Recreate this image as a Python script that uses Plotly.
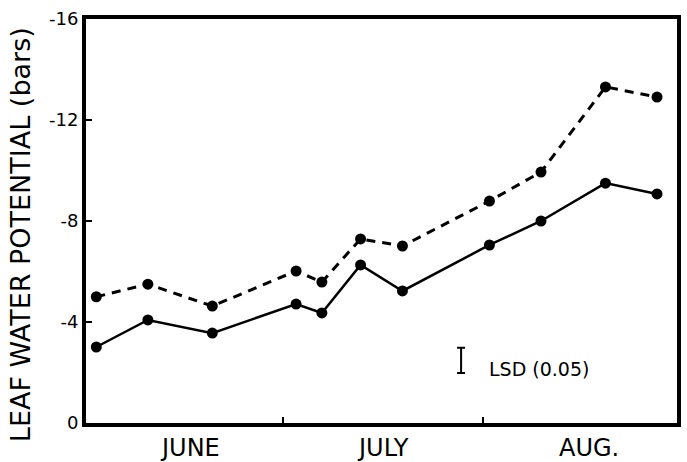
import plotly.graph_objects as go

# Days after June 1
days = [1, 9, 19, 32, 36, 42, 48.5, 62, 70, 80, 88]
# Leaf water potential (bars)
dashed_series = [-5.0, -5.5, -4.63, -6.02, -5.58, -7.29, -7.01, -8.79, -9.94, -13.31, -12.91]
solid_series = [-3.01, -4.08, -3.56, -4.71, -4.36, -6.26, -5.23, -7.05, -8.0, -9.5, -9.07]

y_ticks = [0, -4, -8, -12, -16]
y_tick_labels = ["0", "-4", "-8", "-12", "-16"]
month_boundaries = [30, 61]
month_centers = [15.5, 45.5, 77.5]
month_names = ["JUNE", "JULY", "AUG."]

lsd_value = 1.0
lsd_day = 57.6
lsd_level = -2.48

FONT = "DejaVu Sans"

fig = go.Figure()
fig.add_trace(go.Scatter(
    x=days, y=dashed_series, mode="lines+markers",
    line=dict(color="black", width=3, dash="9px,7px"),
    marker=dict(color="black", size=11),
    showlegend=False, hoverinfo="skip"))
fig.add_trace(go.Scatter(
    x=days, y=solid_series, mode="lines+markers",
    line=dict(color="black", width=2.5),
    marker=dict(color="black", size=11),
    showlegend=False, hoverinfo="skip"))
# LSD bar
fig.add_trace(go.Scatter(
    x=[lsd_day], y=[lsd_level], mode="markers",
    marker=dict(size=0.1, color="rgba(0,0,0,0)"),
    error_y=dict(type="constant", value=lsd_value / 2, color="black", thickness=2, width=4),
    showlegend=False, hoverinfo="skip"))

fig.add_annotation(x=lsd_day, y=lsd_level, xref="x", yref="y",
                   text="LSD (0.05)", showarrow=False, xanchor="left", yanchor="middle",
                   xshift=26, yshift=-9,
                   font=dict(family=FONT, size=19, color="black"))

for xc, name in zip(month_centers, month_names):
    fig.add_annotation(x=xc, y=0, xref="x", yref="paper", text=name, showarrow=False,
                       xanchor="center", yanchor="middle", yshift=-25,
                       font=dict(family=FONT, size=24, color="black"))

fig.add_annotation(x=0, y=0.465, xref="paper", yref="paper",
                   text="LEAF WATER POTENTIAL (bars)", textangle=-90, showarrow=False,
                   xanchor="center", yanchor="middle", xshift=-66,
                   font=dict(family=FONT, size=27, color="black"))

fig.update_xaxes(range=[-0.6, 91.1], tickvals=month_boundaries, showticklabels=False,
                 ticks="inside", ticklen=6, tickwidth=2, tickcolor="black",
                 showline=True, linewidth=4, linecolor="black", mirror=True,
                 showgrid=False, zeroline=False)
fig.update_yaxes(range=[0, -16], tickvals=y_ticks, ticktext=y_tick_labels,
                 ticks="inside", ticklen=6, tickwidth=2, tickcolor="black",
                 tickfont=dict(family=FONT, size=18, color="black"),
                 showline=True, linewidth=4, linecolor="black", mirror=True,
                 showgrid=False, zeroline=False)

fig.update_layout(width=687, height=462, margin=dict(l=86, r=6, t=19, b=39),
                  plot_bgcolor="white", paper_bgcolor="white")

fig.write_html("out.html", config={"displayModeBar": False},
               post_script="document.body.style.margin='0';")
